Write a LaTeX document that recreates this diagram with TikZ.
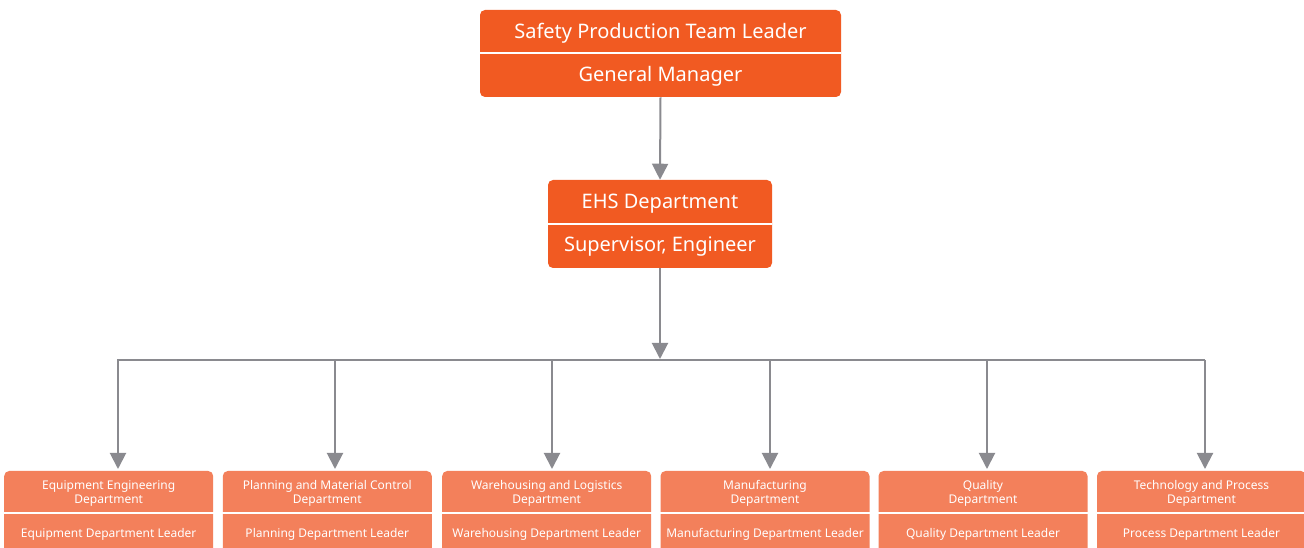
\documentclass[tikz,border=0pt]{standalone}
\usepackage{fontspec}
\setmainfont{Noto Sans}
\usetikzlibrary{arrows.meta}
\definecolor{leadorange}{HTML}{F15A22}
\definecolor{deptorange}{HTML}{F3805B}
\definecolor{linkgray}{HTML}{8A8A8F}
\tikzset{
  mainbox/.style={fill=leadorange, rounded corners=3.75pt, inner sep=0pt, draw=none},
  deptbox/.style={fill=deptorange, rounded corners=3.75pt, inner sep=0pt, draw=none,
    minimum width=156.75pt, minimum height=69pt},
  bigtext/.style={text=white, font=\fontsize{15}{18}\selectfont, inner sep=0pt, anchor=base},
  smalltext/.style={text=white, font=\fontsize{9}{10.5}\selectfont, inner sep=0pt, anchor=base},
  divider/.style={draw=white, line width=1.4pt},
  link/.style={draw=linkgray, line width=1.5pt},
  linkarrow/.style={link, -{Triangle[width=12pt,length=12pt]}},
}
\begin{document}
\begin{tikzpicture}[x=0.75pt,y=-0.75pt]
  \useasboundingbox (0,0) rectangle (1304,548);
  \clip (0,0) rectangle (1304,548);

  % top: safety production team leader
  \node[mainbox, minimum width=270.75pt, minimum height=65.25pt] (top) at (660.5,53.5) {};
  \draw[divider] (480,53) -- (841,53);
  \node[bigtext] (topA) at (660.5,38.5) {Safety Production Team Leader};
  \node[bigtext] (topB) at (660.5,81.5) {General Manager};

  % EHS department
  \node[mainbox, minimum width=168pt, minimum height=66pt] (ehs) at (660,224) {};
  \draw[divider] (548,224) -- (772,224);
  \node[bigtext] (ehsA) at (660,209) {EHS Department};
  \node[bigtext] (ehsB) at (660,251.5) {Supervisor, Engineer};

  \draw[linkarrow] (top.south) -- (ehs.north);

  % distribution bus
  \coordinate (busL) at (117,360);
  \coordinate (busR) at (1205,360);
  \coordinate (busM) at (660,359);
  \draw[link] (busL) -- (busR);
  \draw[linkarrow] (ehs.south) -- (busM);

  % departments
  \foreach \n/\bx/\ax/\tA/\tB/\tC in {
    1/108.7/118/{Equipment Engineering}/{Department}/{Equipment Department Leader},
    2/327.3/335/{Planning and Material Control}/{Department}/{Planning Department Leader},
    3/546.7/552/{Warehousing and Logistics}/{Department}/{Warehousing Department Leader},
    4/765/770/{Manufacturing}/{Department}/{Manufacturing Department Leader},
    5/983/987/{Quality}/{Department}/{Quality Department Leader},
    6/1201.5/1205/{Technology and Process}/{Department}/{Process Department Leader}} {
    \node[deptbox] (dept\n) at (\bx,517) {};
    \draw[divider] ([xshift=-79pt]dept\n.center |- 0,513) -- ([xshift=79pt]dept\n.center |- 0,513);
    \node[smalltext] (deptA\n) at (\bx,489.5) {\tA};
    \node[smalltext] (deptB\n) at (\bx,503.5) {\tB};
    \node[smalltext] (deptC\n) at (\bx,537.5) {\tC};
    \coordinate (drop\n) at (\ax,360);
    \draw[linkarrow] (drop\n) -- (\ax,469);
  }
\end{tikzpicture}
\end{document}
